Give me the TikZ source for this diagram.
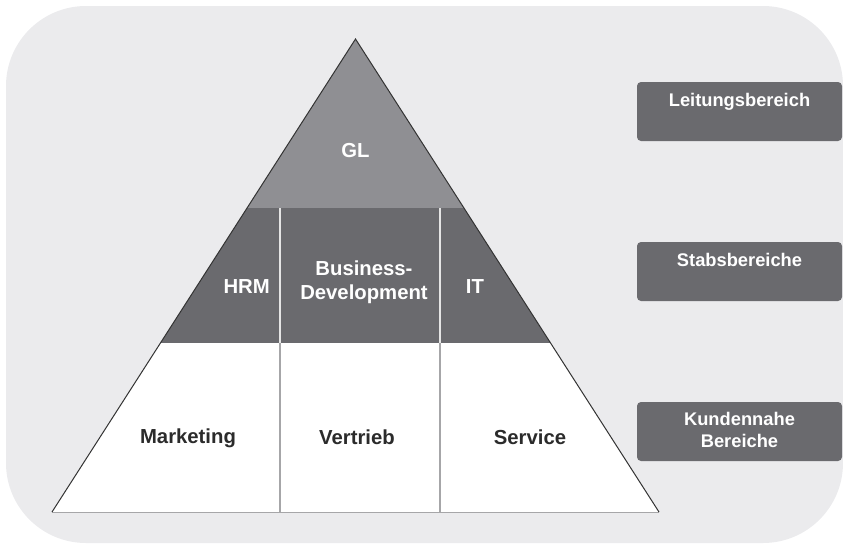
\documentclass[tikz,border=0pt]{standalone}
\usepackage{fontspec}
\setmainfont{Liberation Sans}
\usetikzlibrary{positioning}

\definecolor{bggray}{HTML}{EBEBED}
\definecolor{glgray}{HTML}{8F8F93}
\definecolor{stabgray}{HTML}{6A6A6E}
\definecolor{linegray}{HTML}{A6A6A8}
\definecolor{labeldark}{HTML}{2B2B2B}

\tikzset{
  lbl/.style={font=\bfseries\fontsize{20.3}{24}\selectfont, inner sep=0pt, anchor=base},
  lbllight/.style={lbl, text=white},
  lbldark/.style={lbl, text=labeldark},
  bereich/.style={fill=stabgray, rounded corners=4pt, minimum width=205pt, minimum height=59pt, inner sep=0pt},
  bereichtext/.style={font=\bfseries\fontsize{18.3}{22}\selectfont, text=white, align=center, inner sep=0pt, anchor=base}
}

\begin{document}
\begin{tikzpicture}[x=1pt,y=-1pt]
\useasboundingbox (0,0) rectangle (843,544);
\fill[bggray, rounded corners=80pt] (6,6) rectangle (843,543);

% pyramid corners
\coordinate (apex) at (355.5,39);
\coordinate (gl-l) at (247.1,208);
\coordinate (gl-r) at (463.9,208);
\coordinate (st-l) at (160.5,343);
\coordinate (st-r) at (550.5,343);
\coordinate (base-l) at (52,512);
\coordinate (base-r) at (659,512);

\fill[glgray] (apex) -- (gl-r) -- (gl-l) -- cycle;
\fill[stabgray] (gl-l) -- (gl-r) -- (st-r) -- (st-l) -- cycle;
\fill[white] (st-l) -- (st-r) -- (base-r) -- (base-l) -- cycle;

% column dividers
\draw[white!80!gray, line width=1.2pt] (280,208) -- (280,343) (440,208) -- (440,343);
\draw[linegray, line width=1.2pt] (280,343) -- (280,512) (440,343) -- (440,512);
\draw[linegray, line width=1pt] (base-l) -- (base-r);
\draw[black!80, line width=1pt] (base-l) -- (apex) -- (base-r);

% pyramid labels (multi-line nodes sit on their last baseline)
\node[lbllight] (gl) at (355.5,157) {GL};
\node[lbllight, anchor=base east] (hrm) at (270,293) {HRM};
\node[lbllight, align=center] (bizdev) at (364,299) {Business-\\Development};
\node[lbllight] (it) at (475,293) {IT};
\node[lbldark] (marketing) at (188,443) {Marketing};
\node[lbldark] (vertrieb) at (357,444) {Vertrieb};
\node[lbldark] (service) at (530,444) {Service};

% levels on the right
\node[bereich] (leitung) at (739.5,111.5) {};
\node[bereich] (stab) at (739.5,271.5) {};
\node[bereich] (kunden) at (739.5,431.5) {};
\node[bereichtext] (leitung-t) at ([yshift=-25pt]leitung.north) {Leitungsbereich};
\node[bereichtext] (stab-t) at ([yshift=-25pt]stab.north) {Stabsbereiche};
\node[bereichtext] (kunden-t) at ([yshift=-46pt]kunden.north) {Kundennahe\\Bereiche};
\end{tikzpicture}
\end{document}
